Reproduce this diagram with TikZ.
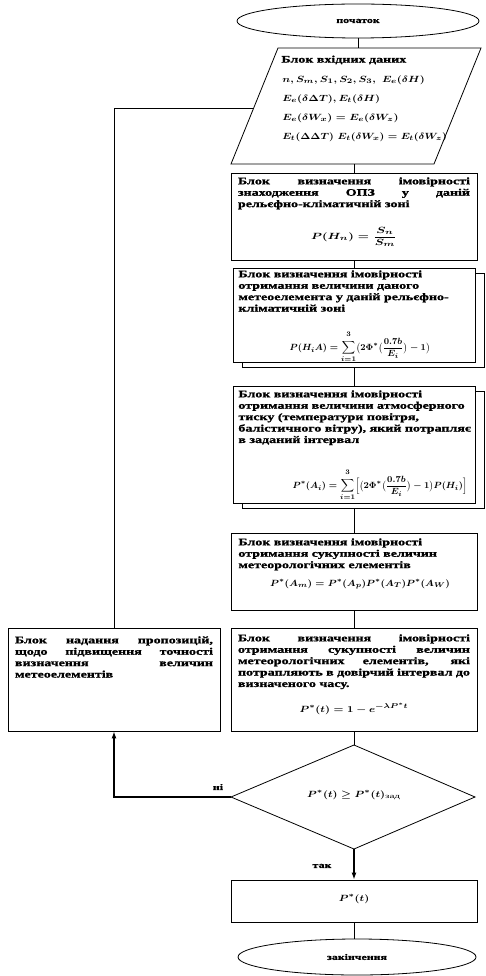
\documentclass[tikz,border=0pt]{standalone}
\usepackage{fontspec}
\setmainfont{Liberation Serif}[FakeStretch=1.4, BoldFeatures={FakeBold=1.2}]
\usepackage{amsmath}
\usepackage{graphicx}
\usetikzlibrary{shapes.geometric,arrows.meta}
\newcommand{\fmd}[2]{\scalebox{#1}[1]{\boldmath$\displaystyle #2$}}
\newcommand{\fms}[2]{\scalebox{#1}[1]{\boldmath$#2$}}
\newcommand{\upl}{\raisebox{2.5pt}{\boldmath$\scriptstyle 3$}}
\begin{document}
\begin{tikzpicture}[x=1pt,y=-1pt,
  line width=0.8pt,
  blk/.style={draw, fill=white, inner sep=0pt},
  term/.style={draw, ellipse, inner sep=0pt},
  txt/.style={font=\bfseries\fontsize{10}{11.4}\selectfont, inner sep=0pt},
  jst/.style={txt, align=justify, text width=232pt},
  lft/.style={txt, align=left},
  fnode/.style={inner sep=0pt, font=\fontsize{9.5}{11}\selectfont},
  conn/.style={line width=0.7pt},
  flow/.style={line width=2pt, -{Latex[length=7pt,width=5pt]}},
  lbl/.style={font=\bfseries\fontsize{8.5}{9}\selectfont, inner sep=0pt}
]
\useasboundingbox (0,0) rectangle (486,976);

% start
\node[term, minimum width=242pt, minimum height=34pt, font=\bfseries\fontsize{8.5}{9}\selectfont] (start) at (358,21) {початок};

% input parallelogram
\coordinate (p1) at (278,48);
\coordinate (p2) at (481,48);
\coordinate (p3) at (434,164);
\coordinate (p4) at (231,164);
\coordinate (pout) at (354,164);
\coordinate (pleft) at (253.7,108);
\draw (p1) -- (p2) -- (p3) -- (p4) -- cycle;
\node[lft, anchor=west] (pt1) at (281,60) {Блок вхідних даних};
\node[fnode, anchor=west] (pt2) at (282,80) {\fms{1.2}{n, S_{m}, S_1, S_2, S_3,\ E_e(\delta H)}};
\node[fnode, anchor=west] (pt3) at (282,99) {\fms{1.2}{E_e(\delta\Delta T), E_t(\delta H)}};
\node[fnode, anchor=west] (pt4) at (282,118) {\fms{1.2}{E_e(\delta W_x) = E_e(\delta W_z)}};
\node[fnode, anchor=west] (pt5) at (282,137) {\fms{1.15}{E_t(\Delta\Delta T)\ E_t(\delta W_x) = E_t(\delta W_z)}};

% block 3
\node[blk, minimum width=246pt, minimum height=87pt] (b3) at (354,216.5) {};
\node[jst, anchor=north] (b3t) at (354,177) {Блок визначення імовірності\linebreak знаходження ОПЗ у даній\linebreak рельєфно-кліматичній зоні};
\node[fnode] (b3f) at (354,237) {\fmd{1.35}{P(H_n) = \frac{S_n}{S_m}}};

% block 4 (stacked)
\node[blk, minimum width=242pt, minimum height=94pt] (b4b) at (363,320) {};
\node[blk, minimum width=242pt, minimum height=94pt] (b4) at (354,315) {};
\node[lft, anchor=north west] (b4t) at (238,270) {Блок визначення імовірності\\ отримання величини даного\\ метеоелемента у даній рельєфно-\\ кліматичній зоні};
\node[fnode] (b4f) at (360,347) {\fmd{1.0}{P(H_i A) = \sum_{i=1}^{\upl}\bigl(2\Phi^{*}\bigl(\frac{0.7b}{E_i}\bigr) - 1\bigr)}};

% block 5 (stacked)
\node[blk, minimum width=242pt, minimum height=117pt] (b5b) at (363,449.5) {};
\node[blk, minimum width=242pt, minimum height=117pt] (b5) at (354,444.5) {};
\node[lft, anchor=north west] (b5t) at (238,390) {Блок визначення імовірності\\ отримання величини атмосферного\\ тиску (температури повітря,\\ балістичного вітру), який потрапляє\\ в заданий інтервал};
\node[fnode] (b5f) at (380,485) {\fmd{1.0}{P^{*}(A_i) = \sum_{i=1}^{\upl}\Bigl[\bigl(2\Phi^{*}\bigl(\frac{0.7b}{E_i}\bigr) - 1\bigr)P(H_i)\Bigr]}};

% block 6
\node[blk, minimum width=246pt, minimum height=77pt] (b6) at (354,571.5) {};
\node[lft, anchor=north west] (b6t) at (238,538) {Блок визначення імовірності\\ отримання сукупності величин\\ метеорологічних елементів};
\node[fnode] (b6f) at (360,584) {\fms{1.1}{P^{*}(A_{m}) = P^{*}(A_p)P^{*}(A_T)P^{*}(A_W)}};

% block 7
\node[blk, minimum width=246pt, minimum height=103pt] (b7) at (354,679.5) {};
\node[jst, anchor=north] (b7t) at (354,634) {Блок визначення імовірності\linebreak отримання сукупності величин\linebreak метеорологічних елементів, які\linebreak потрапляють в довірчий інтервал до\linebreak визначеного часу.};
\node[fnode] (b7f) at (354,709) {\fms{1.2}{P^{*}(t) = 1 - e^{-\lambda P^{*} t}}};

% left block
\node[blk, minimum width=212pt, minimum height=103pt] (lb) at (114,679.5) {};
\node[jst, anchor=north, text width=198pt] (lbt) at (114,636) {Блок надання пропозицій,\linebreak щодо підвищення точності\linebreak визначення величин\linebreak метеоелементів};

% decision
\coordinate (dT) at (354,745);
\coordinate (dR) at (475,797);
\coordinate (dB) at (354,849);
\coordinate (dL) at (231,797);
\draw (dT) -- (dR) -- (dB) -- (dL) -- cycle;
\node[fnode] (dtxt) at (354,795) {\fms{1.2}{P^{*}(t) \ge P^{*}(t)_{\text{зад}}}};

% result block
\node[blk, minimum width=246pt, minimum height=42pt] (b8) at (354,901) {};
\node[fnode] (b8f) at (354,899) {\fms{1.2}{P^{*}(t)}};

% end
\node[term, minimum width=238pt, minimum height=36pt, font=\bfseries\fontsize{8.5}{9}\selectfont] (end) at (357,957) {закінчення};

% labels
\node[lbl] (no) at (218,787) {ні};
\node[lbl] (yes) at (322,866) {так};

% connectors
\draw[conn] (start.south) -- (start.south |- p1);
\draw[conn] (pout) -- (b3.north);
\draw[conn] (b3.south) -- (b4.north);
\draw[conn] (b4.south |- b4b.south) -- (b5.north);
\draw[conn] (b5.south |- b5b.south) -- (b6.north);
\draw[conn] (b6.south) -- (b7.north);
\draw[conn] (b7.south) -- (dT);
\draw[flow] (dB) -- (b8.north);
\draw[conn] (b8.south) -- (b8.south |- end.north);
\draw[flow] (dL) -- (dL -| lb.south) -- (lb.south);
\draw[conn] (lb.north) -- (lb.north |- pleft) -- (pleft);
\end{tikzpicture}
\end{document}
